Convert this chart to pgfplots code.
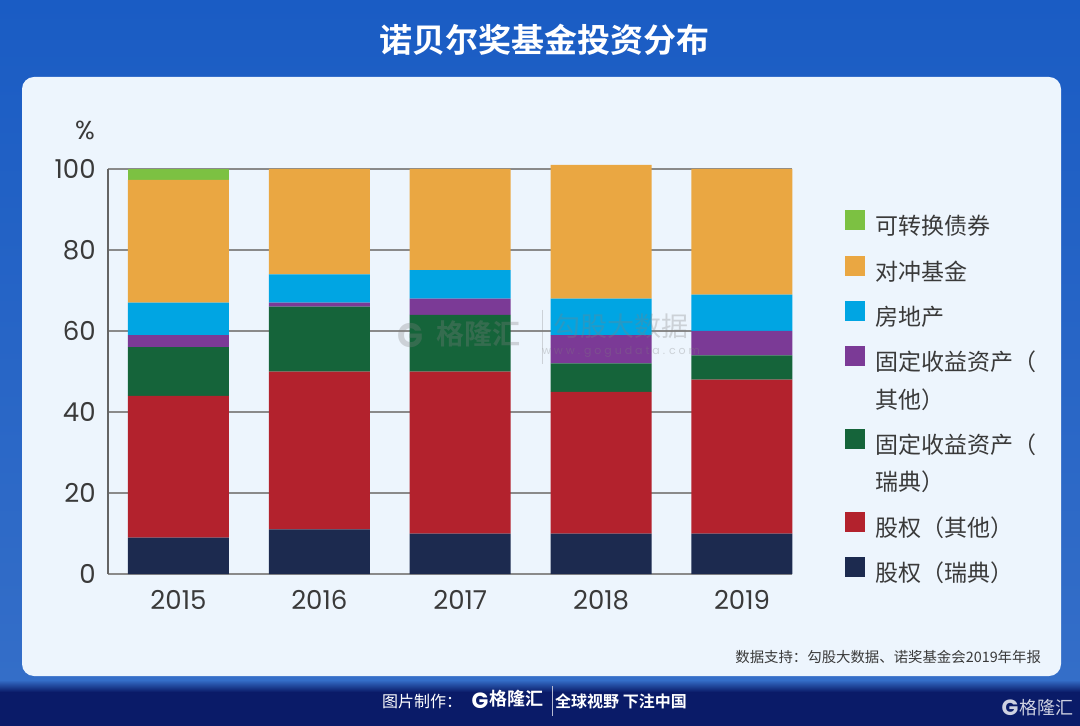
\documentclass[border=0pt]{standalone}
\usepackage{pgfplots}
\pgfplotsset{compat=1.18}
\usepackage{fontspec}
\setmainfont{Poppins}
\newfontfamily\cjk{Noto Sans CJK SC}[BoldFont={Noto Sans CJK SC Bold}]
\definecolor{navybg}{RGB}{10,27,104}
\definecolor{topblue}{RGB}{26,92,196}
\definecolor{lowblue}{RGB}{52,110,200}
\definecolor{panel}{RGB}{237,245,253}
\definecolor{cSEeq}{RGB}{28,42,79}
\definecolor{cOTeq}{RGB}{179,34,45}
\definecolor{cSEfi}{RGB}{21,100,58}
\definecolor{cOTfi}{RGB}{123,58,150}
\definecolor{cRE}{RGB}{0,165,227}
\definecolor{cHF}{RGB}{234,167,66}
\definecolor{cCB}{RGB}{124,193,66}
\definecolor{gridgray}{RGB}{138,138,138}
\definecolor{axisgray}{RGB}{100,100,100}
\definecolor{ticklab}{RGB}{58,58,58}
\newcommand{\sq}[1]{\addlegendimage{legend image code/.code={\fill[#1] (0pt,-0.4pt) rectangle (9.5pt,9.1pt);}}}
\begin{document}
\begin{tikzpicture}
% background
\fill[navybg] (0,0) rectangle (540pt,-363pt);
\shade[top color=topblue, bottom color=lowblue] (0,0) rectangle (540pt,-340pt);
\shade[top color=lowblue, bottom color=navybg] (0,-340pt) rectangle (540pt,-346pt);
\fill[panel, rounded corners=6pt] (11pt,-38.5pt) rectangle (530.5pt,-338pt);
% title
\node[text=white, font=\cjk\bfseries\fontsize{16.5}{18}\selectfont] at (272pt,-20pt) {诺贝尔奖基金投资分布};
% percent sign
\node[text=ticklab, font=\fontsize{13}{13}\selectfont] at (42.5pt,-65pt) {\%};
\begin{axis}[
  at={(54pt,-287pt)}, anchor=south west,
  scale only axis, width=342pt, height=202.5pt,
  xmin=-0.5, xmax=4.355, ymin=0, ymax=100,
  clip=false,
  ybar stacked, bar width=50.5pt,
  axis lines*=left,
  axis line style={draw=gridgray, line width=0.8pt},
  y axis line style={draw=axisgray, line width=0.9pt},
  major tick length=0pt,
  ytick={0,20,40,60,80,100},
  ymajorgrids, grid style={draw=gridgray, line width=0.8pt},
  xtick={0,1,2,3,4}, xticklabels={2015,2016,2017,2018,2019},
  /pgf/number format/assume math mode=true,
  tick label style={font=\fontsize{13}{13}\selectfont, text=ticklab},
  yticklabel style={anchor=east, inner sep=0pt, xshift=-6pt},
  xticklabel style={anchor=center, inner sep=0pt, yshift=-13pt},
  legend style={at={(1.0775,0.899)}, anchor=north west, draw=none, fill=none,
    inner sep=0pt, row sep=7.8pt, column sep=5pt,
    font=\cjk\fontsize{11.5}{12}\selectfont, text=ticklab,
    nodes={inner sep=0pt, text height=8.5pt, text depth=2.5pt}},
  legend cell align=left,
]
\addplot+[forget plot, fill=cSEeq, draw=none] coordinates {(0,9) (1,11) (2,10) (3,10) (4,10)};
\addplot+[forget plot, fill=cOTeq, draw=none] coordinates {(0,35) (1,39) (2,40) (3,35) (4,38)};
\addplot+[forget plot, fill=cSEfi, draw=none] coordinates {(0,12) (1,16) (2,14) (3,7) (4,6)};
\addplot+[forget plot, fill=cOTfi, draw=none] coordinates {(0,3) (1,1) (2,4) (3,7) (4,6)};
\addplot+[forget plot, fill=cRE, draw=none] coordinates {(0,8) (1,7) (2,7) (3,9) (4,9)};
\addplot+[forget plot, fill=cHF, draw=none] coordinates {(0,30.3) (1,26) (2,25) (3,33) (4,31)};
\addplot+[forget plot, fill=cCB, draw=none] coordinates {(0,2.7) (1,0) (2,0) (3,0) (4,0)};
\sq{cCB}\addlegendentry{可转换债券}
\sq{cHF}\addlegendentry{对冲基金}
\sq{cRE}\addlegendentry{房地产}
\sq{cOTfi}\addlegendentry{固定收益资产（}
\addlegendimage{empty legend}\addlegendentry{其他）}
\sq{cSEfi}\addlegendentry{固定收益资产（}
\addlegendimage{empty legend}\addlegendentry{瑞典）}
\sq{cOTeq}\addlegendentry{股权（其他）}
\sq{cSEeq}\addlegendentry{股权（瑞典）}
\end{axis}
% watermark (on top of bars)
\begin{scope}[opacity=0.3]
\node[text=gray, font=\bfseries\fontsize{17}{17}\selectfont] at (205pt,-168pt) {G};
\node[text=gray, font=\cjk\bfseries\fontsize{14}{14}\selectfont] at (239pt,-167pt) {格隆汇};
\draw[gray, line width=0.5pt] (271pt,-155pt) -- (271pt,-182pt);
\node[text=gray, font=\cjk\fontsize{13.5}{14}\selectfont] at (310.5pt,-163pt) {勾股大数据};
\node[text=gray, font=\fontsize{5.5}{6}\selectfont] at (310.5pt,-176pt) {w w w . g o g u d a t a . c o m};
\end{scope}
% source
\node[anchor=east, text=ticklab, font=\cjk\fontsize{7.2}{8}\selectfont] at (524pt,-328.5pt) {数据支持：勾股大数据、诺奖基金会2019年年报};
% footer
\node[text=white, font=\cjk\fontsize{8}{9}\selectfont] at (211pt,-350.5pt) {图片制作：};
\node[text=white, font=\bfseries\fontsize{11}{11}\selectfont] at (240pt,-350.5pt) {G};
\node[text=white, font=\cjk\bfseries\fontsize{9}{9}\selectfont] at (258pt,-349.5pt) {格隆汇};
\draw[white!70!navybg, line width=0.5pt] (276pt,-343pt) -- (276pt,-358pt);
\node[text=white, font=\cjk\bfseries\fontsize{8}{9}\selectfont] at (310.5pt,-350.5pt) {全球视野 下注中国};
\node[text=white!80!navybg, font=\bfseries\fontsize{11}{11}\selectfont] at (505pt,-354pt) {G};
\node[text=white!80!navybg, font=\cjk\fontsize{9}{9}\selectfont] at (523pt,-354pt) {格隆汇};
\end{tikzpicture}
\end{document}
